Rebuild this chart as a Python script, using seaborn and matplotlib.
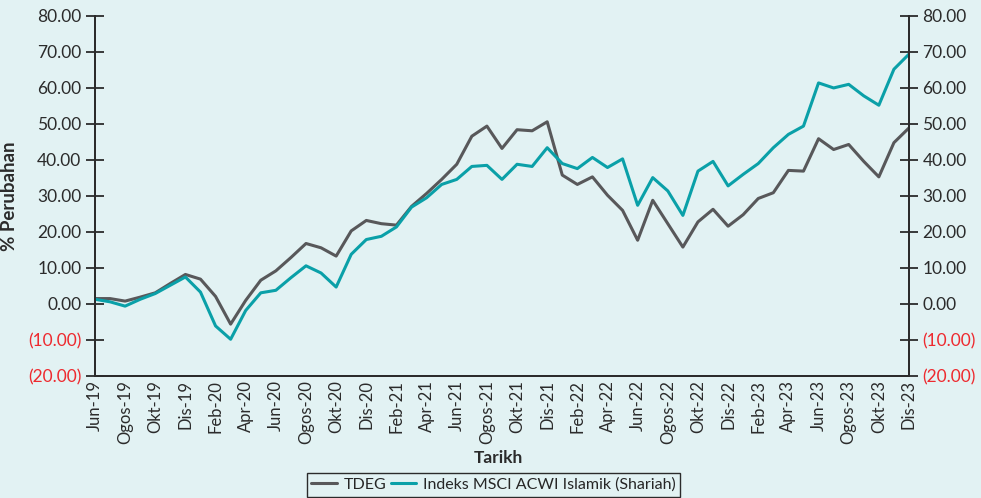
import matplotlib
matplotlib.use('Agg')
import matplotlib.pyplot as plt
import seaborn as sns
import pandas as pd

# Label bulan (Jun-19 .. Dis-23)
bulan = ['Jun-19', 'Jul-19', 'Ogos-19', 'Sep-19', 'Okt-19', 'Nov-19', 'Dis-19',
         'Jan-20', 'Feb-20', 'Mac-20', 'Apr-20', 'Mei-20', 'Jun-20', 'Jul-20',
         'Ogos-20', 'Sep-20', 'Okt-20', 'Nov-20', 'Dis-20', 'Jan-21', 'Feb-21',
         'Mac-21', 'Apr-21', 'Mei-21', 'Jun-21', 'Jul-21', 'Ogos-21', 'Sep-21',
         'Okt-21', 'Nov-21', 'Dis-21', 'Jan-22', 'Feb-22', 'Mac-22', 'Apr-22',
         'Mei-22', 'Jun-22', 'Jul-22', 'Ogos-22', 'Sep-22', 'Okt-22', 'Nov-22',
         'Dis-22', 'Jan-23', 'Feb-23', 'Mac-23', 'Apr-23', 'Mei-23', 'Jun-23',
         'Jul-23', 'Ogos-23', 'Sep-23', 'Okt-23', 'Nov-23', 'Dis-23']

# % perubahan kumulatif
tdeg = [1.5, 1.5, 0.8, 1.9, 3.1, 5.7, 8.2, 6.9, 2.1, -5.6,
        1.0, 6.6, 9.2, 12.9, 16.8, 15.6, 13.3, 20.3, 23.2, 22.3,
        21.9, 27.1, 30.7, 34.6, 38.8, 46.6, 49.4, 43.2, 48.4, 48.1,
        50.6, 35.8, 33.2, 35.3, 30.2, 26.0, 17.7, 28.8, 22.3, 15.8,
        22.8, 26.3, 21.6, 24.8, 29.3, 30.9, 37.1, 36.9, 45.9, 42.9,
        44.3, 39.6, 35.3, 44.8, 48.9]
msci = [1.3, 0.6, -0.6, 1.3, 2.9, 5.2, 7.5, 3.3, -6.1, -9.8,
        -1.8, 3.1, 3.8, 7.3, 10.6, 8.6, 4.7, 13.8, 17.9, 18.8,
        21.4, 26.9, 29.5, 33.2, 34.6, 38.2, 38.5, 34.6, 38.8, 38.2,
        43.4, 39.0, 37.6, 40.7, 37.9, 40.3, 27.4, 35.1, 31.4, 24.6,
        36.9, 39.6, 32.8, 36.0, 39.0, 43.4, 47.1, 49.4, 61.4, 60.0,
        61.0, 57.8, 55.2, 65.2, 69.4]

siri = ['TDEG', 'Indeks MSCI ACWI Islamik (Shariah)']
warna = ['#58585a', '#0aa0a8']
yticks = [-20, -10, 0, 10, 20, 30, 40, 50, 60, 70, 80]

df = pd.DataFrame({
    'idx': list(range(len(bulan))) * 2,
    'nilai': tdeg + msci,
    'siri': [siri[0]] * len(tdeg) + [siri[1]] * len(msci),
})

bg = '#e2f2f3'
dark = '#2b2b2b'
sns.set_theme(style='white', rc={'axes.facecolor': bg, 'figure.facecolor': bg})
plt.rcParams['font.family'] = ['Lato', 'DejaVu Sans']

fig = plt.figure(figsize=(9.81, 4.98), dpi=100)
ax = fig.add_axes([0.0968, 0.245, 0.8298, 0.723])

sns.lineplot(data=df, x='idx', y='nilai', hue='siri', palette=warna,
             linewidth=2.2, ax=ax, legend=False)

ax.set_xlim(0, len(bulan) - 1)
ax.set_ylim(-20, 80)
ax.set_xticks(range(0, len(bulan), 2))
ax.set_xticklabels(bulan[::2], rotation=90, fontsize=12, color=dark)
ax.tick_params(axis='x', length=0, pad=3)

ax2 = ax.twinx()
ax2.set_ylim(-20, 80)

def fmt(v):
    return f'({abs(v):.2f})' if v < 0 else f'{v:.2f}'

for a in (ax, ax2):
    a.set_yticks(yticks)
    a.set_yticklabels([fmt(v) for v in yticks], fontsize=12.5)
    a.tick_params(axis='y', direction='inout', length=13, width=1.3,
                  color=dark, labelcolor=dark, pad=3.2)
    a.spines['top'].set_visible(False)
    for side in ['left', 'right', 'bottom']:
        a.spines[side].set_color(dark)
        a.spines[side].set_linewidth(1.3)

for t, v in zip(ax.yaxis.get_major_ticks(), yticks):
    if v < 0:
        t.tick1line.set_color('#ee2a2f')
        t.label1.set_color('#ee2a2f')
for t, v in zip(ax2.yaxis.get_major_ticks(), yticks):
    if v < 0:
        t.tick2line.set_color('#ee2a2f')
        t.label2.set_color('#ee2a2f')

ax.set_xlabel('Tarikh', fontsize=12.5, fontweight='bold', color=dark)
ax.xaxis.set_label_coords(0.495, -0.205)
ax.set_ylabel('% Perubahan', fontsize=13.5, fontweight='bold', color=dark)
ax.yaxis.set_label_coords(-0.094, 0.5)

handles = [plt.Line2D([], [], color=c, linewidth=2.2) for c in warna]
leg = fig.legend(handles, siri, loc='upper center', bbox_to_anchor=(0.503, 0.051),
                 ncol=2, fontsize=11.5, frameon=True, fancybox=False,
                 edgecolor=dark, facecolor=bg, handlelength=1.6,
                 handletextpad=0.4, columnspacing=0.3, borderpad=0.3,
                 borderaxespad=0)
leg.get_frame().set_linewidth(1.0)
leg.get_frame().set_alpha(1)

fig.savefig('out.png', dpi=100, facecolor=bg)
